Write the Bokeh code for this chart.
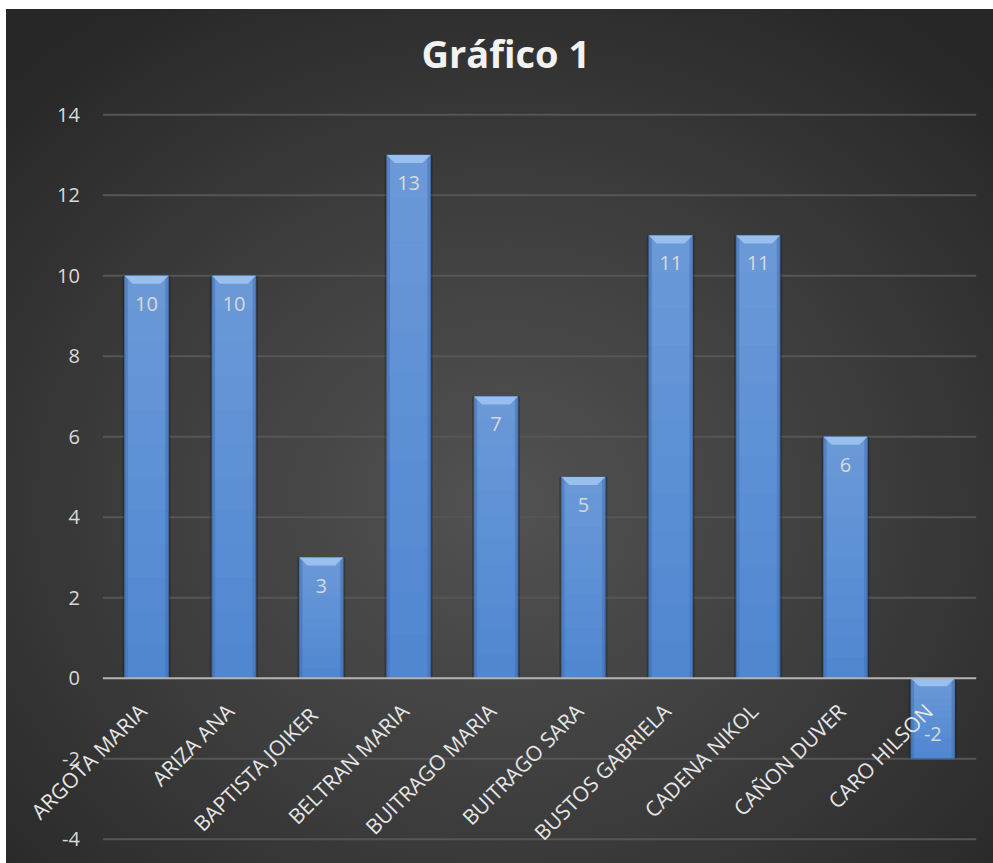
import math
from bokeh.plotting import figure
from bokeh.models import ColumnDataSource, LabelSet, Range1d
from bokeh.core.properties import value
from bokeh.embed import file_html
from bokeh.resources import INLINE

# ---- data ----
categories = ["ARGOTA MARIA", "ARIZA ANA", "BAPTISTA  JOIKER", "BELTRAN MARIA",
              "BUITRAGO MARIA", "BUITRAGO SARA", "BUSTOS GABRIELA",
              "CADENA NIKOL", "CAÑON DUVER", "CARO HILSON"]
values = [10, 10, 3, 13, 7, 5, 11, 11, 6, -2]
y_ticks = [-4, -2, 0, 2, 4, 6, 8, 10, 12, 14]
title_text = "Gráfico 1"

n = len(categories)
idx = list(range(n))
tops = [max(v, 0) for v in values]
bottoms = [min(v, 0) for v in values]

W, H = 993, 863
FONT = "Open Sans"
p = figure(width=W, height=H, output_backend="svg", toolbar_location=None,
           x_range=Range1d(-1.5, n - 0.5),
           y_range=Range1d(y_ticks[0] - 0.5, y_ticks[-1] + 0.5),
           min_border_left=15, min_border_right=17, min_border_top=94,
           min_border_bottom=4)
p.styles = {
    "background-color": "white",
    "background-image": "radial-gradient(ellipse 70% 70% at 50% 58%, #525252 0%, #3e3e3e 50%, #272727 100%)",
    "background-position": "6px 9px",
    "background-size": "987px 854px",
    "background-repeat": "no-repeat",
}
p.border_fill_alpha = 0
p.background_fill_alpha = 0
p.outline_line_color = None

# title
p.title.text = title_text
p.title.text_font = FONT
p.title.text_font_style = "bold"
p.title.text_font_size = "38px"
p.title.text_color = "#f2f2f2"
p.title.align = "left"
p.title.offset = 406
p.title.standoff = 31

# axes off; grid and tick labels drawn inside the frame
p.xaxis.visible = False
p.yaxis.visible = False
p.xgrid.visible = False
p.ygrid.visible = False

grid_y = [t for t in y_ticks if t != 0]
p.segment(x0=[-0.5] * len(grid_y), x1=[n - 0.5] * len(grid_y), y0=grid_y, y1=grid_y,
          line_color="#565656", line_width=2)

p.text(x=[-0.5] * len(y_ticks), y=y_ticks, text=[str(t) for t in y_ticks],
       x_offset=-23, text_align="right", text_baseline="middle",
       text_font=value(FONT), text_font_size="20px", text_color="#d9d9d9")

bw = 0.5
src = ColumnDataSource(dict(x=idx, top=tops, bottom=bottoms, v=values,
                            lab=[str(v) for v in values],
                            yoff=[-28 if v >= 0 else 25 for v in values],
                            cat=categories, zero=[0] * n))

# shadow
p.vbar(x="x", top="top", bottom="bottom", width=bw + 0.05, source=src,
       fill_color="black", fill_alpha=0.22, line_color=None)
# bar face
p.vbar(x="x", top="top", bottom="bottom", width=bw, source=src,
       fill_color="#4f86d1", line_color="#3b659e", line_width=1)

# vertical sheen (lighter toward the top of each bar)
nb = 12
gl, gr, gt, gb, ga = [], [], [], [], []
for i, t, b in zip(idx, tops, bottoms):
    for k in range(nb):
        gl.append(i - bw / 2)
        gr.append(i + bw / 2)
        gb.append(b + (t - b) * k / nb)
        gt.append(b + (t - b) * (k + 1) / nb)
        ga.append(0.16 * (k + 1) / nb)
p.quad(left=gl, right=gr, top=gt, bottom=gb, fill_color="white", fill_alpha=ga,
       line_color=None)

# side shading
sx = 0.035
p.quad(left=[i - bw / 2 for i in idx], right=[i - bw / 2 + sx for i in idx],
       top=tops, bottom=bottoms, fill_color="#3f6db0", fill_alpha=0.5, line_color=None)
p.quad(left=[i + bw / 2 - sx for i in idx], right=[i + bw / 2 for i in idx],
       top=tops, bottom=bottoms, fill_color="#3f6db0", fill_alpha=0.5, line_color=None)

# top bevel
dx, dh = 0.09, 0.2
bxs = [[i - bw / 2, i + bw / 2, i + bw / 2 - dx, i - bw / 2 + dx] for i in idx]
bys = [[t, t, t - dh, t - dh] for t in tops]
p.patches(bxs, bys, fill_color="#98bfee", line_color=None)

# zero line
p.segment(x0=[-0.5], x1=[n - 0.5], y0=[0], y1=[0], line_color="#b4b4b4", line_width=2)

# data labels
p.add_layout(LabelSet(x="x", y="v", text="lab", source=src, y_offset="yoff",
                      text_align="center", text_baseline="middle",
                      text_font=value(FONT), text_font_size="20px", text_color="#d9d9d9"))

# category labels
p.add_layout(LabelSet(x="x", y="zero", text="cat", source=src, angle=math.pi / 4,
                      x_offset=-4, y_offset=-29, text_align="right", text_baseline="middle",
                      text_font=value(FONT), text_font_size="21px", text_color="#e6e6e6"))

open("out.html", "w").write(file_html(p, INLINE))
